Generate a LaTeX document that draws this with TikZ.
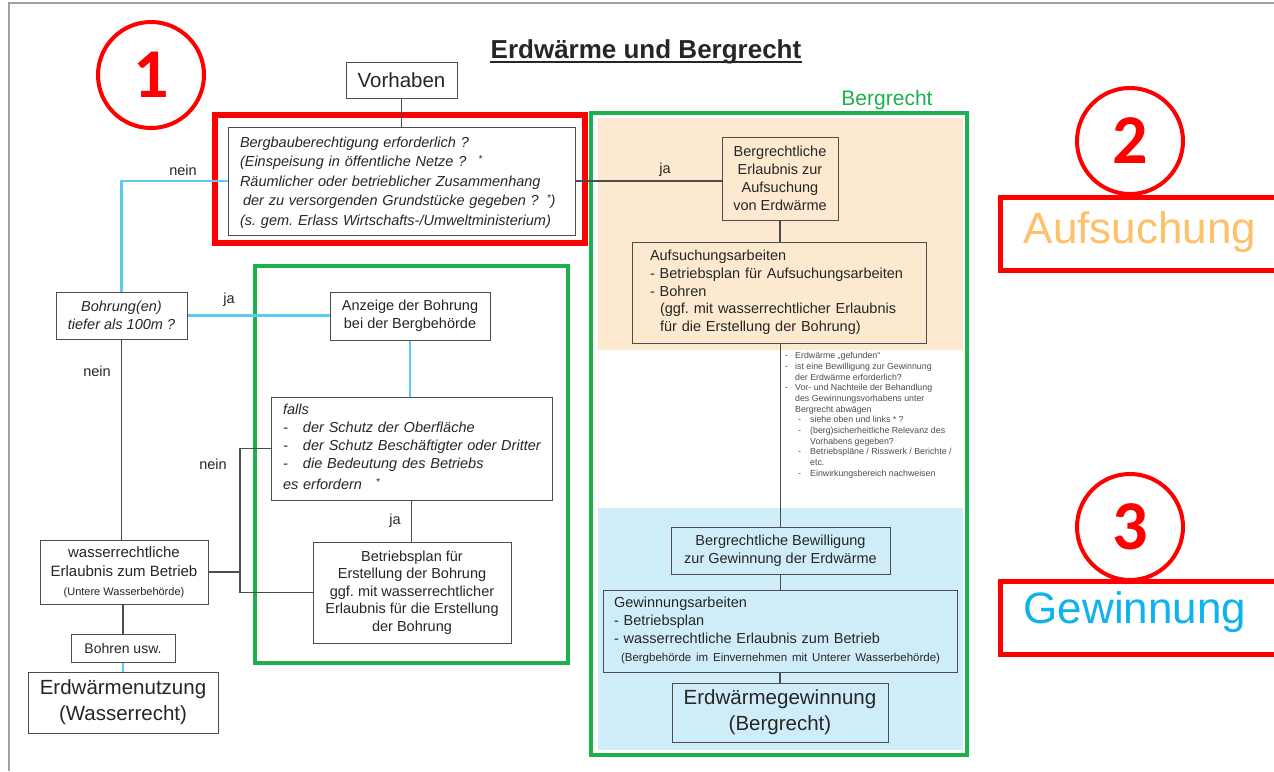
\documentclass[tikz,border=0pt]{standalone}
\usepackage{fontspec}
\setmainfont{Liberation Sans}
\newfontfamily\digitfont{Carlito}
\frenchspacing

\definecolor{boxline}{HTML}{4D4D4D}
\definecolor{txt}{HTML}{262626}
\definecolor{linkblue}{HTML}{5BCBF2}
\definecolor{framegreen}{HTML}{1DB04E}
\definecolor{markred}{HTML}{FF0000}
\definecolor{peach}{HTML}{FDE9CF}
\definecolor{paleblue}{HTML}{CFEDF9}
\definecolor{aufsorange}{HTML}{FFC06A}
\definecolor{gewblue}{HTML}{0DB2EE}
\definecolor{pagegray}{HTML}{A0A0A0}

\newcommand{\fs}[2]{\fontsize{#1}{#2}\selectfont}
\newcommand{\rows}[1]{\begin{tabular}{@{}l@{}}#1\end{tabular}}
\newcommand{\sstar}{\raisebox{4pt}{\fs{10}{10}*}}

\tikzset{
  box/.style={draw=boxline, line width=1pt, inner sep=0pt, text=txt, align=center},
  t14/.style={font=\fs{14.5}{18}},
  t20/.style={font=\fs{20.5}{26}},
  link/.style={draw=boxline, line width=1.2pt},
  bluelink/.style={draw=linkblue, line width=2.6pt},
  lab/.style={text=txt, font=\fs{14.5}{16}, inner sep=0pt},
  numcircle/.style={circle, draw=markred, line width=4pt, minimum size=106pt,
    inner sep=0pt, text=markred, font=\digitfont\bfseries\fs{70}{70}},
  redframe/.style={draw=markred, line width=5pt},
  greenframe/.style={draw=framegreen, line width=3.5pt},
}

\begin{document}
\begin{tikzpicture}[x=1pt,y=-1pt]
\useasboundingbox (0,0) rectangle (1274,771);
\clip (0,0) rectangle (1274,771);
\fill[white] (0,0) rectangle (1274,771);

% page edge
\draw[pagegray, line width=1.5pt] (8,3) -- (1274,3);
\draw[pagegray, line width=1.5pt] (9,3) -- (9,771);

% coloured phases of the mining-law column
\fill[peach] (598,118) rectangle (963,350);
\fill[paleblue] (598,508) rectangle (963,750);

% title
\node[inner sep=0pt, text=txt, font=\bfseries\fs{26}{28}] (title) at (646,52) {Erdwärme und Bergrecht};
\draw[txt, line width=1.8pt] ([yshift=-3.5pt]title.base west) -- ([yshift=-3.5pt]title.base east);

% ---------- left column ----------
\node[box, t20, minimum width=111pt, minimum height=36pt] (vorhaben) at (401.5,80) {Vorhaben};

\draw[markred, line width=6pt] (215,115) rectangle (585,243);
\node[box, minimum width=347pt, minimum height=108pt, text width=323pt, inner xsep=12pt, align=left,
      font=\itshape\fs{14.5}{19.5}] (q1) at (401.5,181)
  {\rows{\rule{0pt}{16pt}Bergbauberechtigung erforderlich ?\\
   (Einspeisung in öffentliche Netze ?\hspace{12pt}\sstar\\
   Räumlicher oder betrieblicher Zusammenhang\\
   \hspace{3pt}der zu versorgenden Grundstücke gegeben ?\hspace{8pt}\sstar)\\
   (s. gem. Erlass Wirtschafts-/Umweltministerium)}};

\node[box, font=\itshape\fs{14.5}{18}, minimum width=131pt, minimum height=47pt] (bohrung) at (121.5,315.5)
  {Bohrung(en)\\tiefer als 100m ?};

\draw[greenframe] (255,266) rectangle (568,663);

\node[box, t14, minimum width=160pt, minimum height=48pt] (anzeige) at (410,316)
  {Anzeige der Bohrung\\bei der Bergbehörde};

\node[box, minimum width=281pt, minimum height=103pt, text width=257pt, inner xsep=12pt, align=left,
      font=\itshape\fs{14.5}{18}] (falls) at (411.5,448.5)
  {\rows{falls\\
   \makebox[20pt][l]{-}der Schutz der Oberfläche\\
   \makebox[20pt][l]{-}der Schutz Beschäftigter oder Dritter\\
   \makebox[20pt][l]{-}die Bedeutung des Betriebs\\[3pt]
   es erfordern\hspace{14pt}\sstar}};

\node[box, font=\fs{14.5}{17.5}, minimum width=198pt, minimum height=101pt] (betrieb) at (412,592.5)
  {Betriebsplan für\\Erstellung der Bohrung\\ggf. mit wasserrechtlicher\\Erlaubnis für die Erstellung\\der Bohrung};

\node[box, font=\fs{15}{19}, minimum width=168pt, minimum height=64pt] (wasser) at (124,572)
  {wasserrechtliche\\Erlaubnis zum Betrieb\\{\fs{11}{14}(Untere Wasserbehörde)}};

\node[box, font=\fs{14}{16}, minimum width=104pt, minimum height=28pt] (bohren) at (123,648) {Bohren usw.};

\node[box, t20, minimum width=190pt, minimum height=61pt] (nutzung) at (123,702.5)
  {Erdwärmenutzung\\(Wasserrecht)};

% ---------- mining-law column ----------
\draw[greenframe] (591,113) rectangle (967,755);
\node[text=framegreen, font=\fs{21}{24}, inner sep=0pt] (bergrecht) at (887,100) {Bergrecht};

\node[box, t14, minimum width=116pt, minimum height=83pt] (bergerl) at (780,178.5)
  {Bergrechtliche\\Erlaubnis zur\\Aufsuchung\\von Erdwärme};

\node[box, minimum width=294pt, minimum height=101pt, text width=258pt, inner xsep=18pt, align=left,
      font=\fs{14.5}{17.8}] (aufs) at (779,292.5)
  {\rows{Aufsuchungsarbeiten\\
   - Betriebsplan für Aufsuchungsarbeiten\\
   - Bohren\\
   \hspace{10pt}(ggf. mit wasserrechtlicher Erlaubnis\\
   \hspace{10pt}für die Erstellung der Bohrung)}};

\node[anchor=north west, inner sep=0pt, text=black!70, font=\fs{8.8}{10.7}] (hinweise) at (785,351)
  {\rows{\makebox[10pt][l]{-}Erdwärme „gefunden“\\
   \makebox[10pt][l]{-}ist eine Bewilligung zur Gewinnung\\
   \hspace{10pt}der Erdwärme erforderlich?\\
   \makebox[10pt][l]{-}Vor- und Nachteile der Behandlung\\
   \hspace{10pt}des Gewinnungsvorhabens unter\\
   \hspace{10pt}Bergrecht abwägen\\
   \hspace{13pt}\makebox[12pt][l]{-}siehe oben und links * ?\\
   \hspace{13pt}\makebox[12pt][l]{-}(berg)sicherheitliche Relevanz des\\
   \hspace{25pt}Vorhabens gegeben?\\
   \hspace{13pt}\makebox[12pt][l]{-}Betriebspläne / Risswerk / Berichte /\\
   \hspace{25pt}etc.\\
   \hspace{13pt}\makebox[12pt][l]{-}Einwirkungsbereich nachweisen}};

\node[box, t14, minimum width=219pt, minimum height=47pt] (bewill) at (780.5,550.5)
  {Bergrechtliche Bewilligung\\zur Gewinnung der Erdwärme};

\node[box, minimum width=354pt, minimum height=82pt, text width=332pt, inner xsep=11pt, align=left,
      font=\fs{14.5}{18}] (gewarb) at (780,631)
  {\rows{Gewinnungsarbeiten\\
   - Betriebsplan\\
   - wasserrechtliche Erlaubnis zum Betrieb\\
   \hspace{7pt}{\fs{11.5}{14}(Bergbehörde im Einvernehmen mit Unterer Wasserbehörde)}}};

\node[box, t20, minimum width=216pt, minimum height=59pt] (gewinn) at (780,712.5)
  {Erdwärmegewinnung\\(Bergrecht)};

% ---------- connectors ----------
\draw[link] (vorhaben.south) -- (q1.north);
\draw[bluelink] (q1.west) -| (bohrung.north);
\node[lab] (nein1) at (183,170) {nein};
\draw[link] (q1.east) -- (q1.east -| bergerl.west);
\node[lab] (ja1) at (665,170) {ja};

\draw[bluelink] (bohrung.east) -- (bohrung.east -| anzeige.west);
\node[lab] (ja2) at (229,300) {ja};
\draw[link] (bohrung.south) -- (bohrung.south |- wasser.north);
\node[lab] (nein2) at (97,371) {nein};

\draw[bluelink] (anzeige.south) -- (anzeige.south |- falls.north);
\draw[link] (falls.south) -- (falls.south |- betrieb.north);
\node[lab] (ja3) at (395,521) {ja};

\coordinate (knot) at (240,448.5);
\draw[link] (falls.west) -- (knot) -- (knot |- betrieb.west) -- (betrieb.west);
\draw[link] (wasser.east) -- (wasser.east -| knot);
\node[lab] (nein3) at (213,464) {nein};

\draw[link] (wasser.south -| bohren.north) -- (bohren.north);
\draw[bluelink, line width=2pt] (bohren.south) -- (bohren.south |- nutzung.north);

\draw[link] (bergerl.south) -- (bergerl.south |- aufs.north);
\draw[link] (aufs.south -| bewill.north) -- (bewill.north);
\draw[link] (bewill.south) -- (bewill.south |- gewarb.north);
\draw[link] (gewarb.south) -- (gewarb.south |- gewinn.north);

% ---------- phase markers ----------
\node[numcircle] (c1) at (151,75) {1};
\node[numcircle] (c2) at (1130,141) {2};
\node[numcircle] (c3) at (1130,527) {3};

\draw[redframe] (1000,197) rectangle (1285,270);
\node[text=aufsorange, font=\fs{44}{48}, inner sep=0pt] (aufsuchung) at (1140,232) {Aufsuchung};
\draw[redframe] (1000,581) rectangle (1285,654);
\node[text=gewblue, font=\fs{44}{48}, inner sep=0pt] (gewinnung) at (1135,612) {Gewinnung};
\end{tikzpicture}
\end{document}
